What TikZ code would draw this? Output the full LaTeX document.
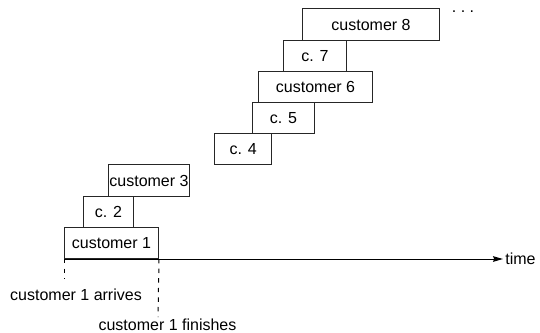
\documentclass[tikz,border=0pt]{standalone}
\usepackage{fontspec}
\setmainfont{Liberation Sans}
\usepackage{tikz}
\usetikzlibrary{arrows.meta, positioning, calc}
\tikzset{
  job/.style={
    rectangle,
    draw=black!85,
    line width=0.5pt,
    minimum height=15.6pt,
    inner sep=0pt,
    anchor=south west,
    text centered,
    font=\fontsize{8}{9.6}\selectfont
  },
  label/.style={
    inner sep=1pt,
    font=\fontsize{8}{9.6}\selectfont
  },
  arrow/.style={
    line width=0.5pt,
    -{Stealth[length=5pt, width=2.8pt, inset=0.6pt]}
  },
  mark line/.style={
    line width=0.5pt,
    dash pattern=on 2.2pt off 2.6pt
  }
}
\begin{document}
\begin{tikzpicture}[x=0.5pt, y=-0.5pt]
  \useasboundingbox (0,0) rectangle (540,332);

  % --- SERVICE PERIODS ---
  \node (C1) [job, minimum width=47pt]   at (64,259)    {customer 1};
  \node (C2) [job, minimum width=25.3pt] at (82.7,227.8) {c. 2};
  \node (C3) [job, minimum width=40.8pt] at (107.7,196.6) {customer 3};
  \node (C4) [job, minimum width=28.4pt] at (214.3,165.4) {c. 4};
  \node (C5) [job, minimum width=31.3pt] at (251.7,134.2) {c. 5};
  \node (C6) [job, minimum width=56.7pt] at (258.3,103)   {customer 6};
  \node (C7) [job, minimum width=31.2pt] at (283.3,71.8)  {c. 7};
  \node (C8) [job, minimum width=68.8pt] at (301.7,40.6)  {customer 8};
  \node (dots) [label, anchor=base] at (463,12.5) {.\ .\ .};

  % --- TIME AXIS ---
  \node (time) [label, anchor=west] at (503,259) {time};
  \draw[arrow] (C1.south west) -- (time.west);

  % Arrival and departure of customer 1
  \coordinate (A1) at (64,279);
  \coordinate (F1) at (158,317);
  \draw[mark line] (C1.south west) -- (A1);
  \draw[mark line] (C1.south east) -- (F1);
  \node (arrive) [label] at (76,295) {customer 1 arrives};
  \node (finish) [label] at (167.5,325) {customer 1 finishes};

\end{tikzpicture}
\end{document}
